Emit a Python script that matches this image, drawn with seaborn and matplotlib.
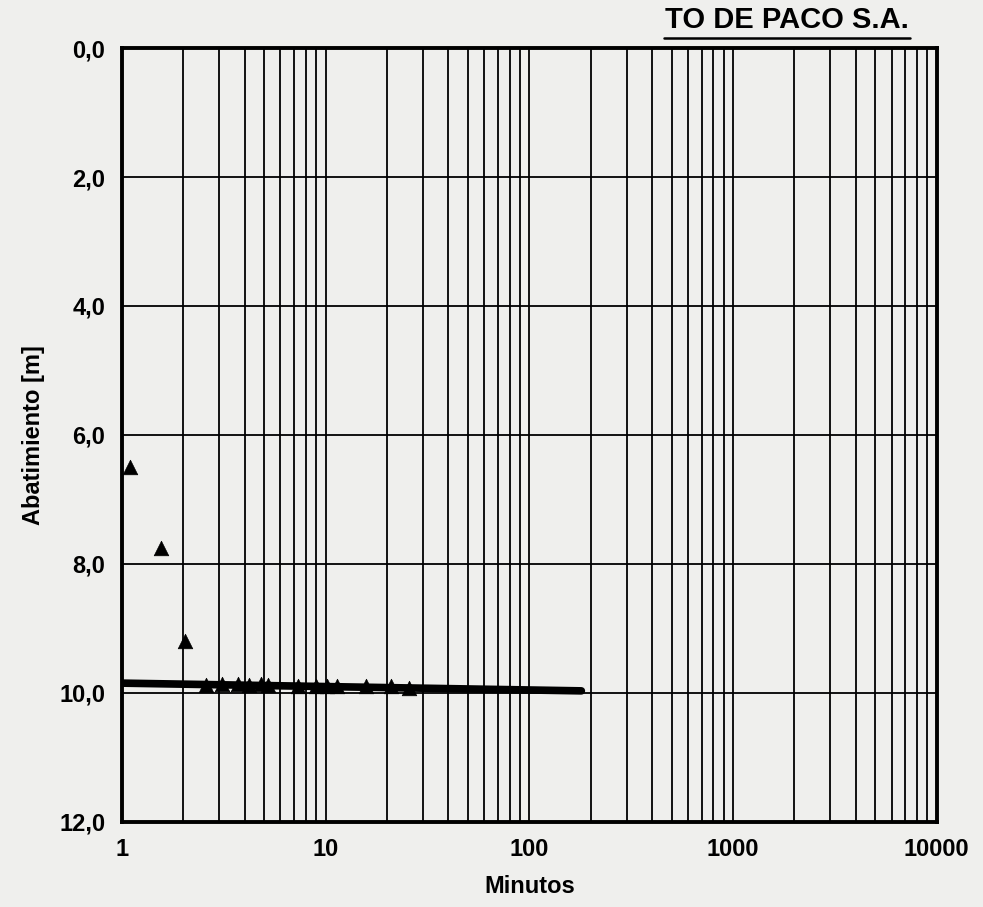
import numpy as np
import pandas as pd
import matplotlib
matplotlib.use('Agg')
import matplotlib.pyplot as plt
import seaborn as sns
from matplotlib.ticker import LogLocator, FixedLocator, FuncFormatter, NullFormatter

# pumping test readings (minutes vs drawdown in m)
tiempo = [1.1, 1.55, 2.05, 2.6, 3.1, 3.7, 4.2, 4.8, 5.2, 7.3, 9.0, 10.2, 11.4, 15.7, 21.0, 25.8]
abatimiento = [6.5, 7.75, 9.2, 9.88, 9.87, 9.87, 9.88, 9.87, 9.88, 9.9, 9.9, 9.9, 9.9, 9.9, 9.9, 9.92]

# straight-line fit drawn on the chart
fit_t = [1.0, 180.0]
fit_s = [9.85, 9.97]

yticks = [0, 2, 4, 6, 8, 10, 12]
xticks = [1, 10, 100, 1000, 10000]

PAPER = '#efefed'

sns.set_theme(style='white')
plt.rcParams['font.family'] = ['Liberation Sans Narrow', 'Liberation Sans', 'DejaVu Sans']

fig = plt.figure(figsize=(9.83, 9.07), dpi=100)
fig.patch.set_facecolor(PAPER)
ax = fig.add_axes([0.124, 0.094, 0.829, 0.853])
ax.set_facecolor(PAPER)

df = pd.DataFrame({'t': tiempo, 's': abatimiento})
fit = pd.DataFrame({'t': fit_t, 's': fit_s})

sns.lineplot(data=fit, x='t', y='s', ax=ax, color='black', lw=5.5, zorder=3)
sns.scatterplot(data=df, x='t', y='s', ax=ax, marker='^', s=110, color='black',
                edgecolor='black', linewidth=0.5, zorder=4)

ax.set_xscale('log')
ax.set_xlim(1, 10000)
ax.set_ylim(12, 0)

ax.xaxis.set_major_locator(FixedLocator(xticks))
ax.xaxis.set_minor_locator(LogLocator(base=10, subs=np.arange(2, 10), numticks=20))
ax.xaxis.set_minor_formatter(NullFormatter())
ax.xaxis.set_major_formatter(FuncFormatter(lambda v, p: f'{int(v)}'))
ax.yaxis.set_major_locator(FixedLocator(yticks))
ax.yaxis.set_major_formatter(FuncFormatter(lambda v, p: f'{v:.1f}'.replace('.', ',')))

ax.grid(True, which='both', axis='x', color='black', lw=1.3)
ax.grid(True, which='major', axis='y', color='black', lw=1.3)
ax.set_axisbelow(True)

for s in ax.spines.values():
    s.set_color('black')
    s.set_linewidth(2.8)

ax.tick_params(axis='both', which='major', direction='out', length=5, width=2,
               colors='black', labelsize=17, pad=7)
ax.tick_params(axis='x', which='minor', length=0)
for lab in ax.get_xticklabels() + ax.get_yticklabels():
    lab.set_fontweight('bold')

ax.set_xlabel('Minutos', fontsize=17, fontweight='bold', color='black', labelpad=10)
ax.set_ylabel('Abatimiento [m]', fontsize=17, fontweight='bold', color='black', labelpad=10)

# header of the printed sheet
fig.text(0.925, 0.963, 'TO DE PACO S.A.', ha='right', va='bottom', fontsize=21,
         fontweight='bold', color='black')
fig.add_artist(plt.Line2D([0.675, 0.926], [0.958, 0.958], color='black', lw=1.8))

fig.savefig('out.png', dpi=100, facecolor=fig.get_facecolor())
